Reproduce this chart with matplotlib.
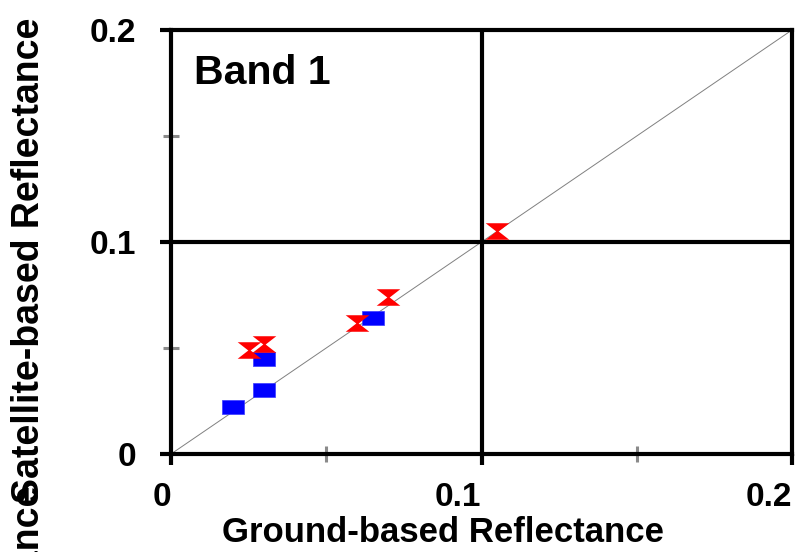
import numpy as np
import matplotlib
matplotlib.use("Agg")
import matplotlib.pyplot as plt
from matplotlib.ticker import FixedLocator, NullFormatter

plt.rcParams['font.family'] = ['Liberation Sans', 'DejaVu Sans']
plt.rcParams['font.weight'] = 'bold'

# ground vs satellite reflectance, band 1
blue_x = [0.020, 0.030, 0.030, 0.065]
blue_y = [0.022, 0.030, 0.045, 0.064]
red_x = [0.025, 0.030, 0.060, 0.070, 0.105]
red_y = [0.049, 0.052, 0.062, 0.074, 0.105]

ticks = [0, 0.1, 0.2]
tick_labels = ['0', '0.1', '0.2']
minor_ticks = [0.05, 0.15]

# marker shapes: flat rectangle and hourglass
rect = [(-1, -0.65), (1, -0.65), (1, 0.65), (-1, 0.65), (-1, -0.65)]
hourglass = [(-1, 0.7), (1, 0.7), (0.1, 0), (1, -0.7), (-1, -0.7), (-0.1, 0), (-1, 0.7)]

fig = plt.figure(figsize=(7.96, 5.52), dpi=100)
ax = fig.add_axes([171/796, 1 - 454/552, (792-171)/796, (454-30)/552])

ax.plot([0, 0.2], [0, 0.2], color='#808080', lw=0.7, zorder=1)
ax.scatter(blue_x, blue_y, marker=rect, s=16**2, c='#0000ff', edgecolors='#3a3aff', linewidths=0.5, zorder=3)
ax.scatter(red_x, red_y, marker=hourglass, s=17**2, c='#ff0000', linewidths=0, zorder=4)

ax.set_xlim(0, 0.2)
ax.set_ylim(0, 0.2)

lw = 3
for v in [0.1]:
    ax.axhline(v, color='black', lw=lw, zorder=2)
    ax.axvline(v, color='black', lw=lw, zorder=2)

for s in ax.spines.values():
    s.set_linewidth(lw)
    s.set_zorder(5)

ax.xaxis.set_major_locator(FixedLocator(ticks))
ax.yaxis.set_major_locator(FixedLocator(ticks))
ax.set_xticklabels(tick_labels, ha='right')
ax.set_yticklabels(tick_labels)
ax.xaxis.set_minor_locator(FixedLocator(minor_ticks))
ax.yaxis.set_minor_locator(FixedLocator(minor_ticks))
ax.xaxis.set_minor_formatter(NullFormatter())
ax.yaxis.set_minor_formatter(NullFormatter())

ax.tick_params(which='major', direction='out', length=8, width=lw, color='black',
               labelsize=24, top=False, right=False)
ax.tick_params(axis='x', which='major', pad=12)
ax.tick_params(axis='y', which='major', pad=17)
ax.tick_params(which='minor', direction='inout', length=12, width=2.2, color='#8a8a8a',
               top=False, right=False)
for lbl in ax.get_xticklabels() + ax.get_yticklabels():
    lbl.set_fontweight('bold')

ax.text(0.0075, 0.1745, 'Band 1', fontsize=29.5, fontweight='bold', ha='left', va='baseline')

fig.text(443/796, 1 - 533/552, 'Ground-based Reflectance', fontsize=25,
         fontweight='bold', ha='center', va='center')
fig.text(29/796, 1 - 260/552, 'Satellite-based Reflectance', fontsize=27,
         fontweight='bold', rotation=90, ha='center', va='center')
# repeated axis title running off the bottom edge
fig.text(29/796, 1 - 486/552, 'Satellite-based Reflectance', fontsize=27,
         fontweight='bold', rotation=90, ha='center', va='top')

fig.savefig('out.png', dpi=100)
